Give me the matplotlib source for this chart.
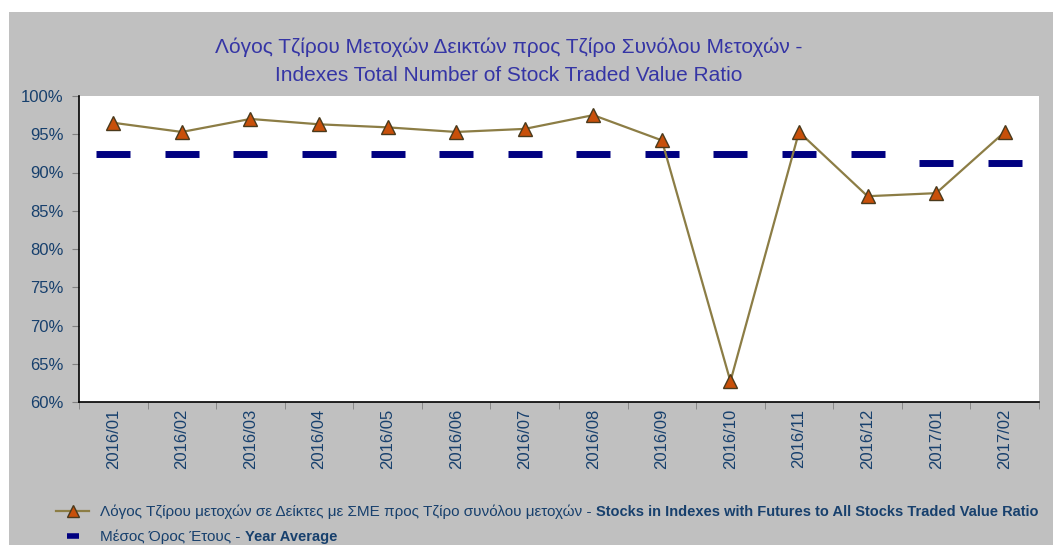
import matplotlib
matplotlib.use("Agg")
import matplotlib.pyplot as plt
import numpy as np
from matplotlib.patches import Rectangle
from matplotlib.lines import Line2D
from matplotlib.text import Annotation

# data
months = ["2016/01", "2016/02", "2016/03", "2016/04", "2016/05", "2016/06", "2016/07",
          "2016/08", "2016/09", "2016/10", "2016/11", "2016/12", "2017/01", "2017/02"]
ratio = [96.5, 95.3, 97.0, 96.3, 95.9, 95.3, 95.7, 97.5, 94.2, 62.7, 95.3, 86.9, 87.3, 95.3]
year_avg = [92.4] * 12 + [91.3] * 2

title_gr = "Λόγος Τζίρου Μετοχών Δεικτών προς Τζίρο Συνόλου Μετοχών -"
title_en = "Indexes Total Number of Stock Traded Value Ratio"
leg1_gr = "Λόγος Τζίρου μετοχών σε Δείκτες με ΣΜΕ προς Τζίρο συνόλου μετοχών - "
leg1_en = "Stocks in Indexes with Futures to All Stocks Traded Value Ratio"
leg2_gr = "Μέσος Όρος Έτους - "
leg2_en = "Year Average"

plt.rcParams["font.family"] = ["Liberation Sans", "DejaVu Sans"]
TEXT = "#17406d"
GRAY = "#c0c0c0"

fig = plt.figure(figsize=(10.53, 5.45), dpi=100, facecolor="white")
fig.add_artist(Rectangle((9 / 1053, 0), 1, 1 - 12 / 545, transform=fig.transFigure,
                         facecolor=GRAY, edgecolor="none", zorder=-10))

ax = fig.add_axes([79 / 1053, 1 - 402 / 545, 960 / 1053, 306 / 545])
ax.set_facecolor("white")

x = np.arange(len(months))
ax.plot(x, ratio, color="#8c7d45", lw=1.6, marker="^", markersize=10,
        markerfacecolor="#c8500a", markeredgecolor="#4a3a1c", markeredgewidth=1.0,
        zorder=3)
ax.plot(x, year_avg, linestyle="none", marker="_", markersize=24,
        markeredgewidth=5, color="#000080", zorder=2)

ax.set_xlim(-0.5, len(months) - 0.5)
ax.set_ylim(60, 100)
ax.set_yticks(np.arange(60, 101, 5))
ax.set_yticklabels([f"{v}%" for v in range(60, 101, 5)])
ax.set_xticks(x)
ax.set_xticklabels(months, rotation=90)
ax.set_xticks(np.arange(-0.5, len(months), 1), minor=True)

ax.tick_params(axis="x", which="major", length=0, pad=5, labelsize=12, labelcolor=TEXT)
ax.tick_params(axis="x", which="minor", length=5, color="#808080")
ax.tick_params(axis="y", length=5, color="#808080", labelsize=12, labelcolor=TEXT, pad=6)

for side in ("top", "right"):
    ax.spines[side].set_visible(False)
for side in ("left", "bottom"):
    ax.spines[side].set_color("black")
    ax.spines[side].set_linewidth(1.2)

fig.text(0.4834, 1 - 47 / 545, title_gr, ha="center", va="center",
         fontsize=15, color="#3535a5")
fig.text(0.4834, 1 - 75 / 545, title_en, ha="center", va="center",
         fontsize=15, color="#3535a5")

# legend: greek part normal, english part bold appended after it
handles = [
    Line2D([], [], color="#8c7d45", lw=1.6, marker="^", markersize=8,
           markerfacecolor="#c8500a", markeredgecolor="#4a3a1c"),
    Line2D([], [], linestyle="none", marker="_", markersize=8,
           markeredgewidth=4, color="#000080"),
]
leg = fig.legend(handles, [leg1_gr, leg2_gr], loc="upper left",
                 bbox_to_anchor=(42 / 1053, 1 - 491 / 545), frameon=False,
                 fontsize=11, labelcolor=TEXT, handlelength=2.2,
                 handletextpad=0.7, labelspacing=0.7)
for t, en in zip(leg.get_texts(), [leg1_en, leg2_en]):
    an = Annotation(en, xy=(1, 0), xycoords=t, ha="left", va="bottom",
                    fontsize=10.5, color=TEXT, fontweight="bold",
                    annotation_clip=False)
    an.set_zorder(6)
    fig.add_artist(an)

fig.savefig("out.png", dpi=100, facecolor="white")
